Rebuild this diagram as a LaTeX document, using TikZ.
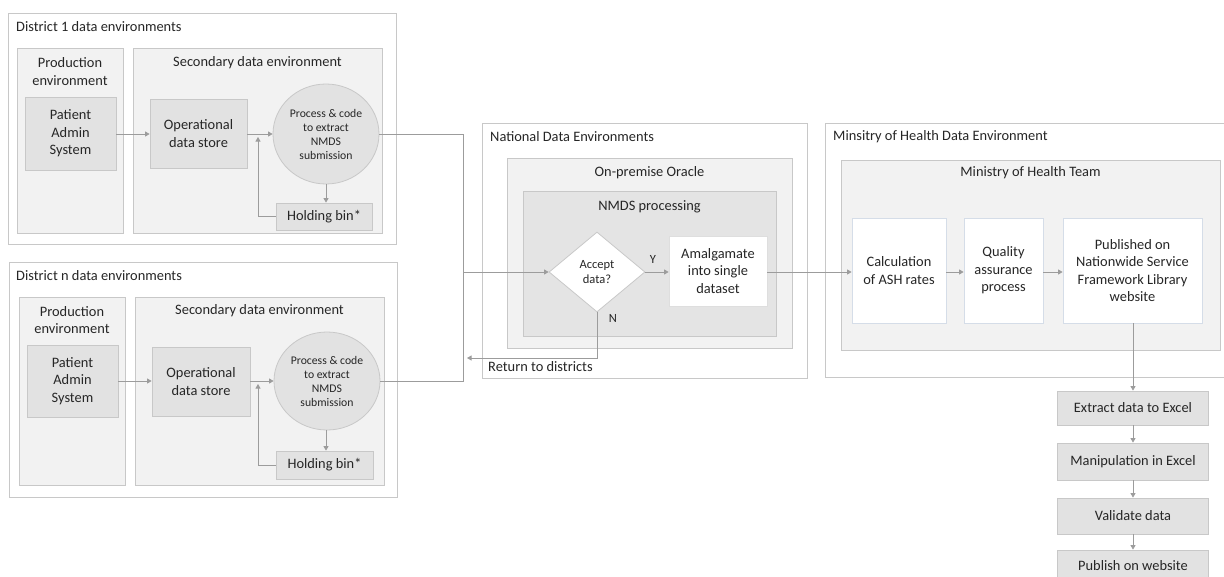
\documentclass[tikz,border=0pt]{standalone}
\usepackage{fontspec}
\setmainfont{Carlito}
\usetikzlibrary{arrows.meta,shapes.geometric}
\definecolor{bordgray}{HTML}{C8C8C8}
\definecolor{envfill}{HTML}{F2F2F2}
\definecolor{innerfill}{HTML}{E2E2E2}
\definecolor{procfill}{HTML}{E4E4E4}
\definecolor{linegray}{HTML}{9C9C9C}
\definecolor{txtcol}{HTML}{262626}
\definecolor{bluebord}{HTML}{D5DDE8}
\begin{document}
\begin{tikzpicture}[x=1pt,y=-1pt,
  every node/.style={text=txtcol, font=\fontsize{14.4}{17.5}\selectfont},
  outerbox/.style={draw=bordgray, fill=white, line width=0.8pt, inner sep=0pt},
  envbox/.style={draw=bordgray, fill=envfill, line width=0.8pt, inner sep=0pt},
  procbox/.style={draw=bordgray, fill=procfill, line width=0.8pt, inner sep=0pt},
  innerbox/.style={draw=bordgray, fill=innerfill, line width=0.8pt, inner sep=0pt, align=center},
  whitebox/.style={draw=bluebord, fill=white, line width=0.8pt, inner sep=0pt, align=center},
  circbox/.style={ellipse, draw=bordgray, fill=innerfill, line width=0.8pt, inner sep=0pt, align=center, font=\fontsize{11.7}{14}\selectfont},
  decision/.style={diamond, draw=bordgray, fill=white, line width=0.8pt, inner sep=0pt, align=center, font=\fontsize{12.5}{15}\selectfont},
  titletext/.style={anchor=west, inner sep=0pt},
  ctitle/.style={inner sep=0pt, align=center},
  smalllabel/.style={inner sep=0pt, font=\fontsize{12.5}{15}\selectfont},
  arr/.style={draw=linegray, line width=0.8pt, -{Triangle[length=4.5pt,width=5pt]}},
  conn/.style={draw=linegray, line width=0.8pt}
]
\clip (0,0) rectangle (1224,576);

% ---------- District 1 ----------
\node[outerbox, minimum width=388pt, minimum height=231pt] (d1) at (202,128.5) {};
\node[titletext] (d1t) at (16,27) {District 1 data environments};
\node[envbox, minimum width=106pt, minimum height=185pt] (prod1) at (70,140.5) {};
\node[envbox, minimum width=249pt, minimum height=185pt] (sec1) at (257.5,140.5) {};
\node[ctitle] (prod1t) at (70,71.5) {Production\\environment};
\node[ctitle] (sec1t) at (257.5,63) {Secondary data environment};
\node[innerbox, minimum width=91pt, minimum height=73pt] (pas1) at (70.5,133.5) {Patient\\Admin\\System};
\node[innerbox, minimum width=97pt, minimum height=69pt] (ods1) at (198.5,133.5) {Operational\\data store};
\node[circbox, minimum width=106pt, minimum height=100pt] (circ1) at (326,134) {Process \& code\\to extract\\NMDS\\submission};
\node[innerbox, minimum width=96pt, minimum height=27pt] (hold1) at (324,216.5) {Holding bin*};
\coordinate (fb1) at (258,216.5);
\draw[arr] (pas1.east |- 0,134) -- (ods1.west |- 0,134);
\draw[arr] (ods1.east |- 0,134) -- (circ1.west);
\draw[arr] (circ1.south -| 326,0) -- (hold1.north -| 326,0);
\draw[arr] (hold1.west) -- (fb1) -- (258,137);

% ---------- District n ----------
\node[outerbox, minimum width=388pt, minimum height=235pt] (dn) at (203,379.5) {};
\node[titletext] (dnt) at (16,276) {District n data environments};
\node[envbox, minimum width=106pt, minimum height=188pt] (prodn) at (72,391) {};
\node[envbox, minimum width=249pt, minimum height=188pt] (secn) at (259.5,391) {};
\node[ctitle] (prodnt) at (72,320) {Production\\environment};
\node[ctitle] (secnt) at (259.5,311) {Secondary data environment};
\node[innerbox, minimum width=91pt, minimum height=72pt] (pasn) at (72.5,381) {Patient\\Admin\\System};
\node[innerbox, minimum width=98pt, minimum height=69pt] (odsn) at (201,381.5) {Operational\\data store};
\node[circbox, minimum width=106pt, minimum height=98pt] (circn) at (327,381) {Process \& code\\to extract\\NMDS\\submission};
\node[innerbox, minimum width=97pt, minimum height=28pt] (holdn) at (324.5,465) {Holding bin*};
\coordinate (fbn) at (258,465);
\draw[arr] (pasn.east |- 0,381) -- (odsn.west |- 0,381);
\draw[arr] (odsn.east |- 0,381) -- (circn.west);
\draw[arr] (circn.south -| 326,0) -- (holdn.north -| 326,0);
\draw[arr] (holdn.west) -- (fbn) -- (258,384);

% ---------- National ----------
\node[outerbox, minimum width=325pt, minimum height=255pt] (nat) at (644.5,250.5) {};
\node[titletext] (natt) at (490,137) {National Data Environments};
\node[envbox, minimum width=285pt, minimum height=190pt] (orc) at (649.5,253) {};
\node[ctitle] (orct) at (649.5,173) {On-premise Oracle};
\node[procbox, minimum width=253pt, minimum height=145pt] (nmds) at (649.5,263.5) {};
\node[ctitle] (nmdst) at (649.5,207) {NMDS processing};
\node[decision, minimum width=96pt, minimum height=80pt] (acc) at (597,272) {Accept\\data?};
\node[whitebox, draw=bordgray!60, minimum width=98pt, minimum height=70pt] (amal) at (718,271) {Amalgamate\\into single\\dataset};
\node[smalllabel] (ylab) at (653,259) {Y};
\node[smalllabel] (nlab) at (613,318) {N};
\node[titletext] (rett) at (488,367) {Return to districts};

\coordinate (j1) at (463,134);
\coordinate (jn) at (463,381);
\coordinate (jm) at (463,272);
\draw[conn] (circ1.east |- j1) -- (j1) -- (jm);
\draw[conn] (circn.east |- jn) -- (jn) -- (jm);
\draw[arr] (jm) -- (acc.west);
\draw[arr] (acc.east) -- (amal.west |- acc.east);
\coordinate (rt) at (597,358);
\coordinate (rend) at (467,358);
\draw[arr] (acc.south) -- (rt) -- (rend);

% ---------- Ministry ----------
\node[outerbox, minimum width=410pt, minimum height=254pt] (min) at (1030,250) {};
\node[titletext] (mint) at (833,137) {Minsitry of Health Data Environment};
\node[envbox, minimum width=379pt, minimum height=190pt] (team) at (1030.5,255) {};
\node[ctitle] (teamt) at (1030.5,173) {Ministry of Health Team};
\node[whitebox, minimum width=94pt, minimum height=105pt] (calc) at (899,270.5) {Calculation\\of ASH rates};
\node[whitebox, minimum width=79pt, minimum height=105pt] (qual) at (1003.5,270.5) {Quality\\assurance\\process};
\node[whitebox, minimum width=139pt, minimum height=105pt] (pub) at (1132.5,270.5) {Published on\\Nationwide Service\\Framework Library\\website};
\draw[conn] (amal.east |- 0,272) -- (800,272);
\draw[arr] (800,272) -- (calc.west |- 0,272);
\draw[arr] (calc.east |- 0,272) -- (qual.west |- 0,272);
\draw[arr] (qual.east |- 0,272) -- (pub.west |- 0,272);

% ---------- Bottom steps ----------
\node[innerbox, minimum width=151pt, minimum height=34pt] (ext) at (1133,408) {Extract data to Excel};
\node[innerbox, minimum width=151pt, minimum height=37pt] (man) at (1133,461.5) {Manipulation in Excel};
\node[innerbox, minimum width=151pt, minimum height=36pt] (val) at (1133,516) {Validate data};
\node[innerbox, minimum width=151pt, minimum height=36pt] (pubw) at (1133,568) {};
\node[inner sep=0pt] (pubwt) at (1133,566) {Publish on website};
\draw[arr] (pub.south -| 1133,0) -- (ext.north);
\draw[arr] (ext.south) -- (man.north);
\draw[arr] (man.south) -- (val.north);
\draw[arr] (val.south) -- (pubw.north);
\end{tikzpicture}
\end{document}
